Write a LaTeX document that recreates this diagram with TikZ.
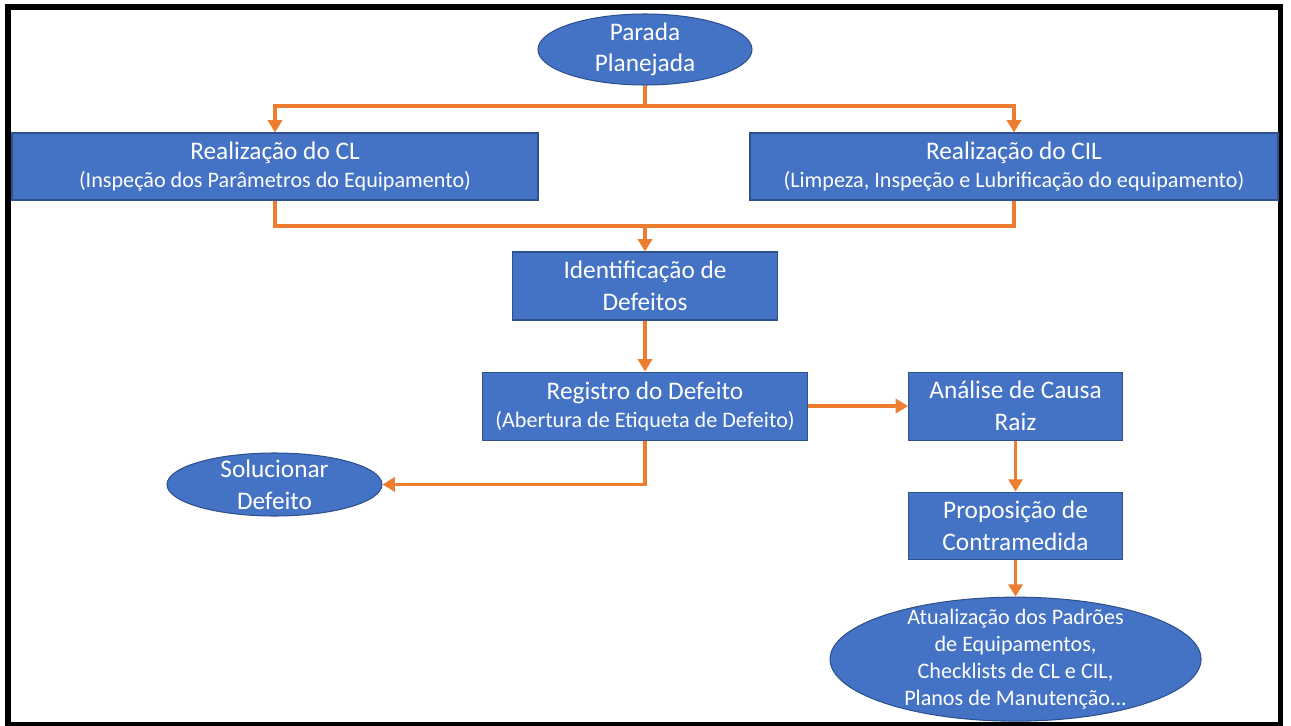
\documentclass[tikz,border=0pt]{standalone}
\usepackage{fontspec}
\setmainfont{Carlito}
\usepackage{xcolor}
\usetikzlibrary{positioning,arrows.meta,shapes.geometric}
\definecolor{boxblue}{HTML}{4472C4}
\definecolor{boxedge}{HTML}{2F528F}
\definecolor{arrorange}{HTML}{ED7D31}
\tikzset{every node/.style={font=\fontsize{14.4}{18}\selectfont}}
\newcommand{\subline}[1]{{\fontsize{12.6}{15}\selectfont #1}}

\begin{document}
\begin{tikzpicture}[
node distance=1.02cm,
box/.style={
draw=boxedge,
fill=boxblue,
line width=0.6pt,
rectangle,
align=center,
text=white,
inner sep=2pt,
minimum height=1.36cm
},
oval/.style={
draw=boxedge,
fill=boxblue,
line width=0.6pt,
ellipse,
align=center,
text=white,
inner xsep=0pt,
inner ysep=-0.3cm
},
flow/.style={draw=arrorange, line width=1.8pt},
arrow/.style={flow, -{Triangle[length=7pt,width=8pt]}}
]

\useasboundingbox (0,0) rectangle (25.82,-14.52);
\draw[line width=3.4pt] (0.16,-0.14) rectangle (25.61,-14.5);

\node[oval, minimum width=4.28cm, minimum height=1.42cm] (parada) at (12.9,-0.99)
{Parada\\Planejada};

\node[box, minimum width=10.52cm, minimum height=1.34cm] (cl) at (5.5,-3.33)
{Realização do CL\\[-2pt] \subline{(Inspeção dos Parâmetros do Equipamento)}};

\node[box, minimum width=10.56cm, minimum height=1.34cm] (cil) at (20.28,-3.33)
{Realização do CIL\\[-2pt] \subline{(Limpeza, Inspeção e Lubrificação do equipamento)}};

\node[box, minimum width=5.3cm] (ident) at (12.9,-5.72)
{Identificação de\\Defeitos};

\node[box, minimum width=6.5cm, below=of ident] (reg)
{Registro do Defeito\\[-2pt] \subline{(Abertura de Etiqueta de Defeito)}};

\node[box, minimum width=4.28cm, right=2cm of reg] (analise)
{Análise de Causa\\Raiz};

\node[box, minimum width=4.28cm, minimum height=1.34cm, below=of analise] (prop)
{Proposição de\\Contramedida};

\node[oval, minimum width=7.42cm, minimum height=2.48cm, below=0.74cm of prop,
font=\fontsize{12.6}{15.2}\selectfont] (atual)
{Atualização dos Padrões\\de Equipamentos,\\Checklists de CL e CIL,\\Planos de Manutenção...};

\node[oval, minimum width=4.3cm, minimum height=1.26cm] (sol) at (5.49,-9.69)
{Solucionar\\Defeito};

% junctions of the split and merge lines
\coordinate (split) at (12.9,-2.12);
\coordinate (merge) at (12.9,-4.52);

\draw[flow] (parada.south) -- (split);
\draw[arrow] (split) -| (cl.north);
\draw[arrow] (split) -| (cil.north);
\draw[flow] (cl.south) |- (merge) -| (cil.south);
\draw[arrow] (merge) -- (ident.north);
\draw[arrow] (ident) -- (reg);
\draw[arrow] (reg) -- (analise);
\draw[arrow] (analise) -- (prop);
\draw[arrow] (prop) -- (atual);
\draw[arrow] (reg.south) |- (sol.east);
\end{tikzpicture}
\end{document}
